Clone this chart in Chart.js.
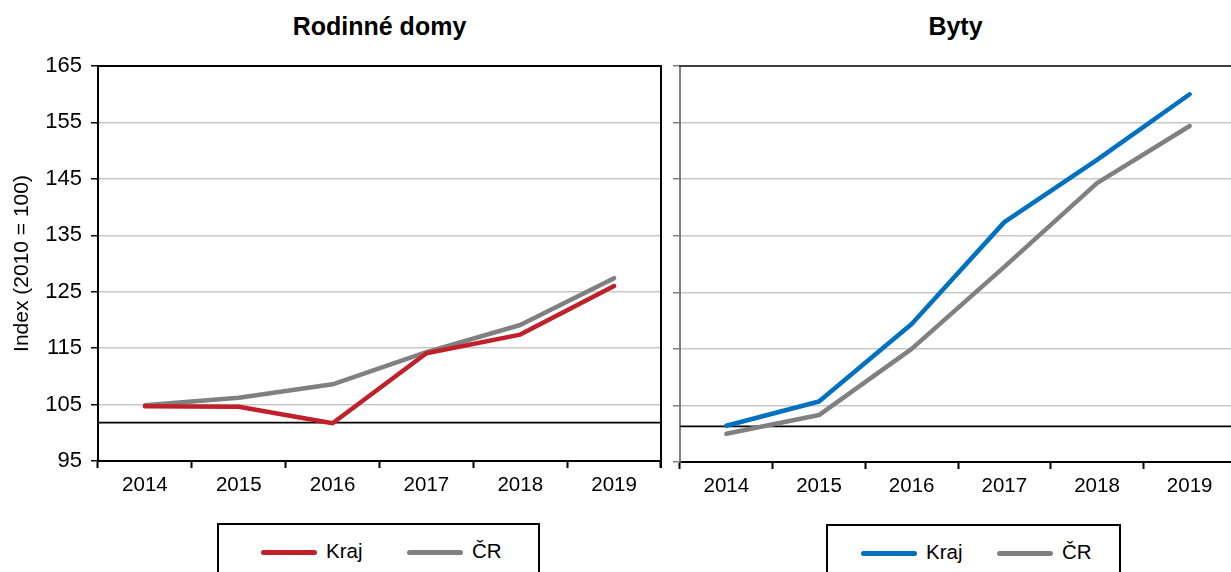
<!DOCTYPE html>
<html>
<head>
<meta charset="utf-8">
<script src="https://cdn.jsdelivr.net/npm/chart.js@4"></script>
<style>
  html, body { margin: 0; padding: 0; background: #fff; overflow: hidden; }
  body { width: 1231px; height: 572px; position: relative; font-family: "Liberation Sans", Arial, sans-serif; }
  .titulo { position: absolute; top: 11px; height: 30px; line-height: 30px; font-size: 25px; font-weight: bold; text-align: center; color: #000; }
  .box { position: absolute; width: 600px; height: 500px; }
  .leyenda { position: absolute; height: 70px; border: 2px solid #000; box-sizing: border-box; background: #fff; }
  .leyenda i { position: absolute; top: 25px; width: 56px; height: 5px; border-radius: 3px; }
  .leyenda span { position: absolute; top: 14px; font-size: 20.5px; line-height: 24px; color: #000; }
</style>
</head>
<body>
<div class="titulo" style="left:98px;width:563px;">Rodinné domy</div>
<div class="titulo" style="left:680px;width:551px;">Byty</div>
<div class="box" style="left:0;top:0;width:680px;"><canvas id="domyChart" width="680" height="500"></canvas></div>
<div class="box" style="left:660px;top:0;width:600px;"><canvas id="bytyChart" width="600" height="500"></canvas></div>
<div class="leyenda" id="leyendaDomy" style="left:217px;top:523px;width:323px;"></div>
<div class="leyenda" id="leyendaByty" style="left:826px;top:524px;width:295px;"></div>

<script>
const roky = ['2014', '2015', '2016', '2017', '2018', '2019'];
const serie = ['Kraj', 'ČR'];
const domyKraj = [104.7, 104.6, 101.7, 114.1, 117.4, 126.0];
const domyCR = [104.9, 106.2, 108.6, 114.3, 119.1, 127.4];
const bytyKraj = [101.4, 105.7, 119.4, 137.4, 148.4, 160.0];
const bytyCR = [100.0, 103.3, 115.0, 129.5, 144.3, 154.4];
const osaMin = 95;
const osaMax = 165;
const osaKrok = 10;
const uroven = { domy: 101.8, byty: 101.3 };

// horizontal reference line + frame lines (top / right)
const ramecek = {
  id: 'ramecek',
  beforeDatasetsDraw(chart, args, opts) {
    const ctx = chart.ctx;
    const a = chart.chartArea;
    const y = chart.scales.y.getPixelForValue(opts.uroven);
    ctx.save();
    ctx.strokeStyle = '#000';
    ctx.lineWidth = 1.6;
    ctx.beginPath();
    ctx.moveTo(a.left, y);
    ctx.lineTo(a.right, y);
    ctx.stroke();
    ctx.restore();
  },
  afterDraw(chart, args, opts) {
    const ctx = chart.ctx;
    const a = chart.chartArea;
    ctx.save();
    ctx.lineWidth = 2;
    ctx.strokeStyle = opts.horni;
    ctx.beginPath();
    ctx.moveTo(a.left - 1, a.top);
    ctx.lineTo(a.right + 1, a.top);
    ctx.stroke();
    if (opts.pravy) {
      ctx.strokeStyle = opts.pravy;
      ctx.beginPath();
      ctx.moveTo(a.right, a.top - 1);
      ctx.lineTo(a.right, a.bottom + 7);
      ctx.stroke();
    }
    ctx.restore();
  }
};

function crearGrafico(idCanvas, kraj, cr, barva, cfg) {
  const ctx = document.getElementById(idCanvas).getContext('2d');
  return new Chart(ctx, {
    type: 'line',
    data: {
      labels: roky,
      datasets: [
        { label: serie[0], data: kraj, borderColor: barva, borderWidth: 4.5, pointRadius: 0, tension: 0, borderCapStyle: 'round', borderJoinStyle: 'round' },
        { label: serie[1], data: cr, borderColor: '#808080', borderWidth: 4.5, pointRadius: 0, tension: 0, borderCapStyle: 'round', borderJoinStyle: 'round' }
      ]
    },
    options: {
      responsive: false,
      animation: false,
      layout: { padding: { top: 66, right: cfg.padRight, bottom: 0, left: 0 } },
      plugins: {
        legend: { display: false },
        tooltip: { enabled: false },
        ramecek: { uroven: cfg.uroven, horni: cfg.horni, pravy: cfg.pravy }
      },
      scales: {
        x: {
          type: 'category',
          offset: true,
          grid: { offset: true, drawOnChartArea: false, drawTicks: true, tickLength: 7, tickColor: '#000', tickWidth: 2 },
          border: { color: '#000', width: 2 },
          ticks: { color: '#000', padding: 5, font: { family: 'Liberation Sans', size: 20.5 }, maxRotation: 0 },
          afterFit: function(scale) { scale.height = cfg.vyskaX; }
        },
        y: {
          min: osaMin,
          max: osaMax,
          grid: { color: '#c8c8c8', lineWidth: 1.5, drawTicks: true, tickLength: 7, tickColor: cfg.osaY, tickWidth: 1.5 },
          border: { color: cfg.osaY, width: 2 },
          ticks: { stepSize: osaKrok, color: cfg.popisky ? '#000' : 'transparent', padding: 9, font: { family: 'Liberation Sans', size: 22 } },
          title: { display: cfg.popisky, text: 'Index (2010 = 100)', color: '#000', padding: { top: 10, bottom: 0 }, font: { family: 'Liberation Sans', size: 21 } },
          afterFit: function(scale) { scale.width = cfg.sirkaY; }
        }
      }
    },
    plugins: [ramecek]
  });
}

function crearLeyenda(idDiv, barva, pozice) {
  const div = document.getElementById(idDiv);
  const barvy = [barva, '#808080'];
  serie.forEach(function(nazev, i) {
    const vzorek = document.createElement('i');
    vzorek.style.left = pozice[i] + 'px';
    vzorek.style.background = barvy[i];
    const text = document.createElement('span');
    text.style.left = (pozice[i] + 65) + 'px';
    text.innerText = nazev;
    div.appendChild(vzorek);
    div.appendChild(text);
  });
}

crearGrafico('domyChart', domyKraj, domyCR, '#c0202a', { padRight: 19, sirkaY: 98, vyskaX: 39, uroven: uroven.domy, horni: '#000', pravy: '#000', osaY: '#000', popisky: true });
crearGrafico('bytyChart', bytyKraj, bytyCR, '#0070c0', { padRight: 24, sirkaY: 20, vyskaX: 38, uroven: uroven.byty, horni: '#404040', pravy: null, osaY: '#808080', popisky: false });
crearLeyenda('leyendaDomy', '#c0202a', [42, 188]);
crearLeyenda('leyendaByty', '#0070c0', [33, 169]);
</script>
</body>
</html>
